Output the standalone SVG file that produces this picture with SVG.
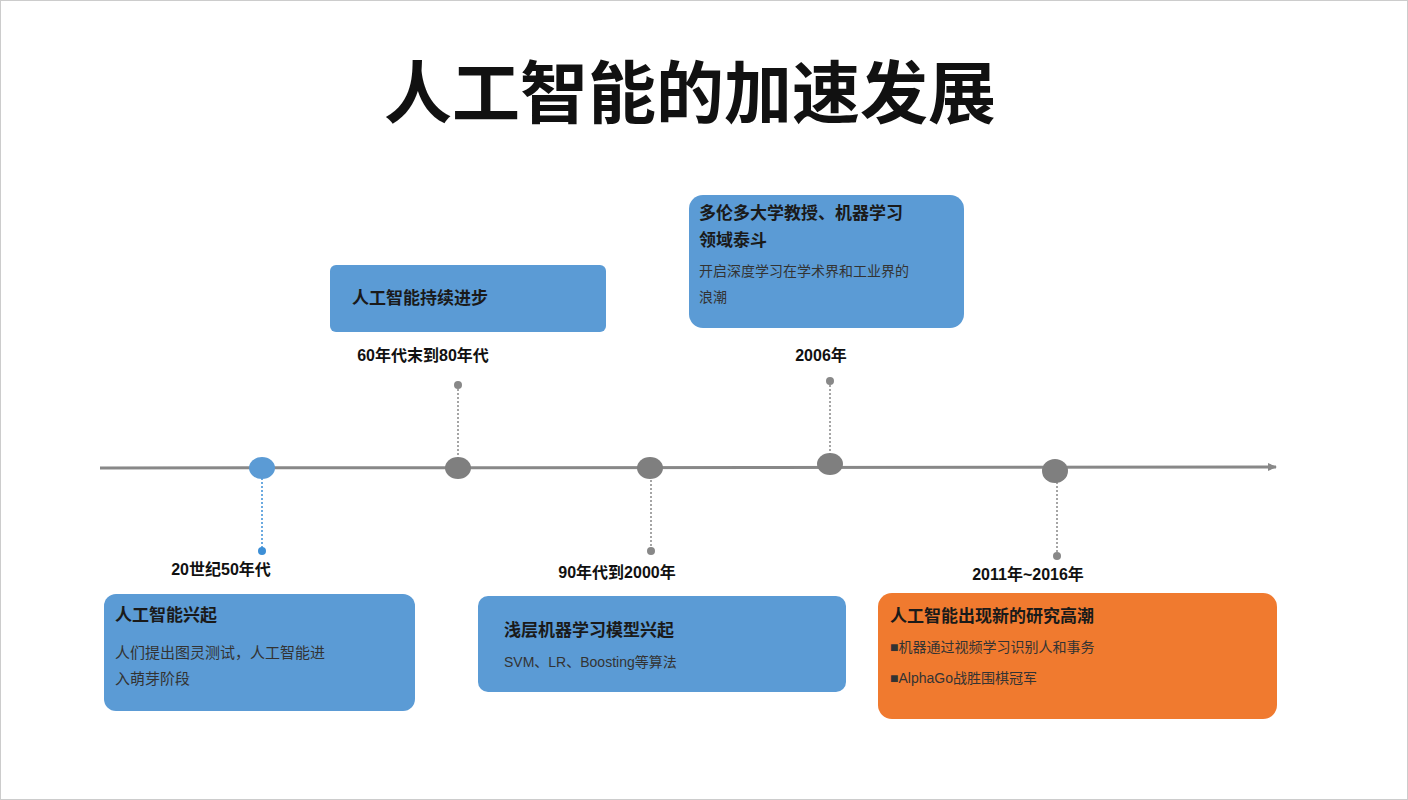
<svg xmlns="http://www.w3.org/2000/svg" width="1408" height="800" viewBox="0 0 1408 800">
<style>
text{font-family:"Liberation Sans","Noto Sans CJK SC",sans-serif;}
.b{fill:#5b9bd5;}
.o{fill:#f07a2f;}
.h{font-size:17px;font-weight:bold;fill:#1a1a1a;}
.s{font-size:15px;fill:#333;}
.s2{font-size:14px;fill:#333;}
.lab{font-size:16px;font-weight:bold;fill:#111;text-anchor:middle;}
.d{stroke:#888;stroke-width:1.5;stroke-dasharray:2 2;fill:none;}
</style>
<defs><marker id="ar" markerWidth="10" markerHeight="10" refX="8" refY="4" orient="auto" markerUnits="userSpaceOnUse"><path d="M0,0 L9,4 L0,8 Z" fill="#888"/></marker></defs>
<rect width="1408" height="800" fill="#fff"/>
<rect x="0.5" y="0.5" width="1407" height="799" fill="none" stroke="#ccc"/>
<text x="690" y="118" font-size="68" font-weight="bold" text-anchor="middle" fill="#111">人工智能的加速发展</text>
<g id="connectors">
<line x1="100" y1="468" x2="1276" y2="467" stroke="#888" stroke-width="3" marker-end="url(#ar)"/>
<line x1="262" y1="470" x2="262" y2="550" stroke="#3d8fd6" stroke-width="1.5" stroke-dasharray="2 2"/>
<line class="d" x1="458" y1="385" x2="458" y2="468"/>
<line class="d" x1="651" y1="468" x2="651" y2="550"/>
<line class="d" x1="830" y1="381" x2="830" y2="464"/>
<line class="d" x1="1057" y1="470" x2="1057" y2="556"/>
</g>
<g id="dots">
<ellipse cx="262" cy="468" rx="13" ry="11" fill="#5b9bd5"/><circle cx="262" cy="551" r="4" fill="#3d8fd6"/>
<ellipse cx="458" cy="468" rx="13" ry="11" fill="#7f7f7f"/><circle cx="458" cy="385" r="4" fill="#888"/>
<ellipse cx="650" cy="468" rx="13" ry="11" fill="#7f7f7f"/><circle cx="651" cy="551" r="4" fill="#888"/>
<ellipse cx="830" cy="464" rx="13" ry="11" fill="#7f7f7f"/><circle cx="830" cy="381" r="4" fill="#888"/>
<ellipse cx="1055" cy="471" rx="13" ry="12" fill="#7f7f7f"/><circle cx="1057" cy="556" r="4" fill="#888"/>
</g>
<g id="n1">
<text class="lab" x="221" y="575">20世纪50年代</text>
<rect class="b" x="104" y="594" width="311" height="117" rx="12"/>
<text class="h" x="115" y="621">人工智能兴起</text>
<text class="s" x="115" y="658">人们提出图灵测试，人工智能进</text>
<text class="s" x="115" y="684">入萌芽阶段</text>
</g>
<g id="n2">
<rect class="b" x="330" y="265" width="276" height="67" rx="6"/>
<text class="h" x="352" y="304">人工智能持续进步</text>
<text class="lab" x="423" y="361">60年代末到80年代</text>
</g>
<g id="n3">
<text class="lab" x="617" y="578">90年代到2000年</text>
<rect class="b" x="478" y="596" width="368" height="96" rx="10"/>
<text class="h" x="504" y="636">浅层机器学习模型兴起</text>
<text class="s2" x="504" y="667">SVM、LR、Boosting等算法</text>
</g>
<g id="n4">
<rect class="b" x="689" y="195" width="275" height="133" rx="14"/>
<text class="h" x="699" y="219">多伦多大学教授、机器学习</text>
<text class="h" x="699" y="246">领域泰斗</text>
<text class="s2" x="699" y="276">开启深度学习在学术界和工业界的</text>
<text class="s2" x="699" y="302">浪潮</text>
<text class="lab" x="821" y="361">2006年</text>
</g>
<g id="n5">
<text class="lab" x="1028" y="580">2011年~2016年</text>
<rect class="o" x="878" y="593" width="399" height="126" rx="14"/>
<text class="h" x="890" y="622">人工智能出现新的研究高潮</text>
<text class="s2" x="890" y="652">■机器通过视频学习识别人和事务</text>
<text class="s2" x="890" y="683">■AlphaGo战胜围棋冠军</text>
</g>
</svg>
